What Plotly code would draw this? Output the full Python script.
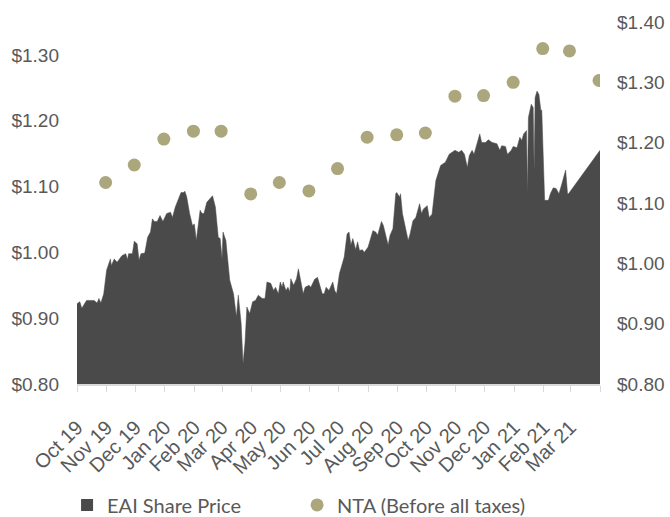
import plotly.graph_objects as go
import pandas as pd

# ---------------- data ----------------
price_dates = [
    "2019-10-01", "2019-10-04", "2019-10-06", "2019-10-08", "2019-10-11", "2019-10-19", "2019-10-22",
    "2019-10-24", "2019-10-26", "2019-10-29", "2019-11-01", "2019-11-05", "2019-11-06", "2019-11-09",
    "2019-11-12", "2019-11-17", "2019-11-21", "2019-11-23", "2019-11-24", "2019-11-28", "2019-11-30",
    "2019-12-03", "2019-12-05", "2019-12-07", "2019-12-11", "2019-12-14", "2019-12-17", "2019-12-19",
    "2019-12-21", "2019-12-24", "2019-12-27", "2019-12-30", "2020-01-03", "2020-01-07", "2020-01-09",
    "2020-01-12", "2020-01-16", "2020-01-18", "2020-01-21", "2020-01-22", "2020-01-24", "2020-01-27",
    "2020-01-30", "2020-02-01", "2020-02-03", "2020-02-07", "2020-02-09", "2020-02-11", "2020-02-14",
    "2020-02-17", "2020-02-20", "2020-02-23", "2020-02-26", "2020-02-28", "2020-03-01", "2020-03-02",
    "2020-03-05", "2020-03-09", "2020-03-11", "2020-03-13", "2020-03-16", "2020-03-18", "2020-03-21",
    "2020-03-23", "2020-03-25", "2020-03-27", "2020-03-30", "2020-04-02", "2020-04-05", "2020-04-08",
    "2020-04-12", "2020-04-15", "2020-04-17", "2020-04-21", "2020-04-24", "2020-04-26", "2020-04-29",
    "2020-05-01", "2020-05-03", "2020-05-04", "2020-05-07", "2020-05-09", "2020-05-11", "2020-05-12",
    "2020-05-15", "2020-05-18", "2020-05-20", "2020-05-23", "2020-05-25", "2020-05-27", "2020-05-31",
    "2020-06-02", "2020-06-06", "2020-06-09", "2020-06-11", "2020-06-14", "2020-06-16", "2020-06-18",
    "2020-06-21", "2020-06-25", "2020-06-27", "2020-06-29", "2020-07-02", "2020-07-05", "2020-07-07",
    "2020-07-10", "2020-07-12", "2020-07-14", "2020-07-16", "2020-07-19", "2020-07-21", "2020-07-23",
    "2020-07-26", "2020-07-28", "2020-08-01", "2020-08-06", "2020-08-09", "2020-08-11", "2020-08-15",
    "2020-08-17", "2020-08-20", "2020-08-22", "2020-08-24", "2020-08-27", "2020-08-30", "2020-08-31",
    "2020-09-03", "2020-09-04", "2020-09-06", "2020-09-09", "2020-09-12", "2020-09-14", "2020-09-17",
    "2020-09-20", "2020-09-24", "2020-09-26", "2020-09-28", "2020-10-02", "2020-10-04", "2020-10-07",
    "2020-10-09", "2020-10-11", "2020-10-16", "2020-10-21", "2020-10-25", "2020-10-28", "2020-10-31",
    "2020-11-04", "2020-11-07", "2020-11-10", "2020-11-13", "2020-11-15", "2020-11-18", "2020-11-20",
    "2020-11-23", "2020-11-26", "2020-11-28", "2020-12-02", "2020-12-05", "2020-12-09", "2020-12-14",
    "2020-12-17", "2020-12-19", "2020-12-23", "2020-12-25", "2020-12-29", "2020-12-31", "2021-01-04",
    "2021-01-07", "2021-01-09", "2021-01-11", "2021-01-14", "2021-01-15", "2021-01-16", "2021-01-19",
    "2021-01-21", "2021-01-22", "2021-01-23", "2021-01-25", "2021-01-27", "2021-01-29", "2021-01-30",
    "2021-02-02", "2021-02-06", "2021-02-08", "2021-02-11", "2021-02-14", "2021-02-17", "2021-02-20",
    "2021-02-22", "2021-02-24", "2021-02-26", "2021-02-27", "2021-04-01",
]
price_values = [
    0.922, 0.925, 0.915, 0.920, 0.927, 0.927, 0.923,
    0.930, 0.923, 0.937, 0.973, 0.990, 0.980, 0.990,
    0.985, 0.995, 0.998, 0.989, 0.998, 0.998, 1.017,
    1.013, 0.988, 0.998, 0.999, 1.023, 1.031, 1.051,
    1.047, 1.047, 1.056, 1.047, 1.059, 1.061, 1.053,
    1.069, 1.084, 1.091, 1.091, 1.093, 1.084, 1.059,
    1.041, 1.043, 1.018, 1.064, 1.059, 1.059, 1.076,
    1.081, 1.086, 1.069, 1.023, 1.021, 0.990, 1.031,
    1.018, 0.958, 0.945, 0.937, 0.902, 0.935, 0.892,
    0.831, 0.862, 0.917, 0.907, 0.925, 0.927, 0.935,
    0.930, 0.930, 0.955, 0.953, 0.942, 0.947, 0.937,
    0.955, 0.947, 0.955, 0.942, 0.947, 0.940, 0.960,
    0.950, 0.960, 0.975, 0.953, 0.937, 0.947, 0.950,
    0.947, 0.959, 0.962, 0.953, 0.937, 0.937, 0.947,
    0.942, 0.955, 0.942, 0.937, 0.968, 0.983, 0.993,
    1.028, 1.031, 1.011, 1.021, 1.004, 1.016, 1.003,
    1.004, 1.000, 1.008, 1.033, 1.031, 1.026, 1.047,
    1.041, 1.023, 1.011, 1.026, 1.036, 1.089, 1.091,
    1.084, 1.089, 1.059, 1.038, 1.018, 1.028, 1.048,
    1.053, 1.074, 1.059, 1.066, 1.071, 1.053, 1.058,
    1.084, 1.109, 1.132, 1.137, 1.149, 1.152, 1.155,
    1.152, 1.155, 1.149, 1.129, 1.147, 1.155, 1.149,
    1.165, 1.180, 1.167, 1.167, 1.171, 1.167, 1.165,
    1.155, 1.162, 1.161, 1.149, 1.155, 1.161, 1.159,
    1.175, 1.170, 1.180, 1.185, 1.089, 1.205, 1.225,
    1.220, 1.124, 1.235, 1.245, 1.240, 1.216, 1.216,
    1.079, 1.079, 1.089, 1.098, 1.097, 1.089, 1.104,
    1.114, 1.125, 1.089, 1.089, 1.155,
]

nta_dates = [
    "2019-10-31", "2019-11-30", "2019-12-31", "2020-01-31", "2020-02-29", "2020-03-31",
    "2020-04-30", "2020-05-31", "2020-06-30", "2020-07-31", "2020-08-31", "2020-09-30",
    "2020-10-31", "2020-11-30", "2020-12-31", "2021-01-31", "2021-02-28", "2021-03-31",
]
nta_values = [
    1.134, 1.163, 1.206, 1.219, 1.219, 1.115,
    1.134, 1.120, 1.157, 1.209, 1.213, 1.216,
    1.277, 1.278, 1.300, 1.356, 1.352, 1.303,
]

tick_labels = [
    "Oct 19", "Nov 19", "Dec 19", "Jan 20", "Feb 20", "Mar 20", "Apr 20", "May 20", "Jun 20",
    "Jul 20", "Aug 20", "Sep 20", "Oct 20", "Nov 20", "Dec 20", "Jan 21", "Feb 21", "Mar 21", "",
]
tick_positions = [d.strftime("%Y-%m-%d") for d in pd.date_range("2019-10-01", "2021-04-01", freq="MS")]

series_names = ["EAI Share Price", "NTA (Before all taxes)"]

# ---------------- styles ----------------
AREA = "#4a4a4a"
DOT = "#aba67c"
TXT = "#595959"
AXIS = "#d9d9d9"
YFONT = dict(family="Liberation Sans, Arial, sans-serif", size=19, color=TXT)
XFONT = dict(family="Liberation Sans, Arial, sans-serif", size=20, color=TXT)

fig = go.Figure()

fig.add_trace(go.Scatter(
    x=price_dates, y=price_values, mode="lines", fill="tozeroy",
    line=dict(color=AREA, width=0.5), fillcolor=AREA,
    showlegend=False, yaxis="y", hoverinfo="skip",
))
# legend proxy for the area series (no data)
fig.add_trace(go.Scatter(
    x=[None], y=[None], mode="markers", name=series_names[0],
    marker=dict(symbol="square", size=12, color=AREA), yaxis="y",
))
fig.add_trace(go.Scatter(
    x=nta_dates, y=nta_values, mode="markers", name=series_names[1],
    marker=dict(symbol="circle", size=13, color=DOT), yaxis="y2",
))

fig.update_layout(
    width=670, height=517,
    margin=dict(l=77, r=70, t=22, b=133, autoexpand=False),
    paper_bgcolor="white", plot_bgcolor="white",
    showlegend=True,
    legend=dict(
        orientation="h", x=-0.019, xanchor="left", y=-0.334, yanchor="middle",
        font=dict(family="Lato, Open Sans, sans-serif", size=20, color=TXT),
        entrywidth=185, itemsizing="trace", bgcolor="rgba(0,0,0,0)",
    ),
    xaxis=dict(
        type="date", range=["2019-10-01", "2021-04-01"],
        tickmode="array", tickvals=tick_positions, ticktext=tick_labels,
        tickangle=-45, tickfont=XFONT, automargin=False,
        ticks="outside", ticklen=6, tickcolor=AXIS, tickwidth=1,
        ticklabelstandoff=16,
        showline=True, linecolor=AXIS, linewidth=1.5,
        showgrid=False, zeroline=False,
    ),
    yaxis=dict(
        range=[0.80, 1.35], dtick=0.1, tick0=0.8, tickformat="$.2f",
        tickfont=YFONT, showgrid=False, zeroline=False, showline=False,
        ticks="", ticklabelstandoff=17, automargin=False,
    ),
    yaxis2=dict(
        range=[0.80, 1.40], dtick=0.1, tick0=0.8, tickformat="$.2f",
        tickfont=YFONT, showgrid=False, zeroline=False, showline=False,
        overlaying="y", side="right", ticks="", ticklabelstandoff=16, automargin=False,
    ),
)

fig.write_html("out.html", config={"displayModeBar": False},
               post_script="document.body.style.margin='0px';")
